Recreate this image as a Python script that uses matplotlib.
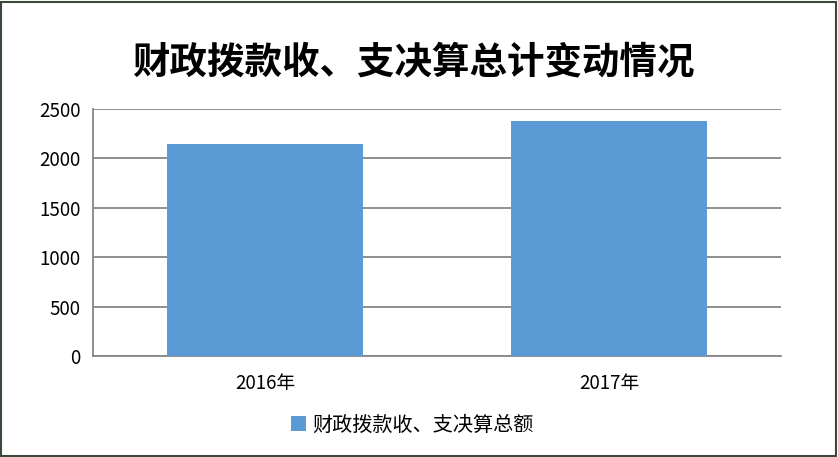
import matplotlib
matplotlib.use("Agg")
import matplotlib.pyplot as plt
from matplotlib.patches import Rectangle

plt.rcParams['font.family'] = ['Noto Sans CJK SC', 'DejaVu Sans']

categories = ["2016年", "2017年"]
values = [2143, 2376]
series_name = "财政拨款收、支决算总额"
title = "财政拨款收、支决算总计变动情况"
yticks = [0, 500, 1000, 1500, 2000, 2500]

fig = plt.figure(figsize=(8.38, 4.57), dpi=100)
ax = fig.add_axes([93/838, 1-356/457, (781-93)/838, (356-109)/457])

bar_color = "#5B9BD5"
x = list(range(len(categories)))
bars = ax.bar(x, values, width=0.57, color=bar_color, zorder=3, label=series_name)
ax.set_xlim(-0.5, len(categories) - 0.5)
ax.set_ylim(0, 2500)
ax.set_yticks(yticks)
ax.set_yticklabels([str(v) for v in yticks], fontsize=13.5)
ax.set_xticks(x)
ax.set_xticklabels(categories, fontsize=13.5)
ax.tick_params(axis='both', length=0, pad=9)
ax.tick_params(axis='x', pad=12)
ax.yaxis.grid(True, color="#868686", linewidth=1.3, zorder=0)
for s in ['top', 'right']:
    ax.spines[s].set_visible(False)
ax.spines['left'].set_color("#868686")
ax.spines['left'].set_linewidth(1.3)
ax.spines['bottom'].set_color("#868686")
ax.spines['bottom'].set_linewidth(1.3)

fig.text(413/838, 1-62/457, title, ha='center', va='center', fontsize=27, fontweight='bold')

leg = fig.legend(handles=[bars], labels=[series_name], loc='center',
                 bbox_to_anchor=(412/838, 1-425/457), frameon=False,
                 fontsize=14.5, handlelength=0.75, handleheight=0.75, handletextpad=0.3)

fig.patches.append(Rectangle((0.5/838, 1.5/457), 835/838, 454/457, transform=fig.transFigure,
                             fill=False, edgecolor="#3a4a3a", linewidth=1.5))

fig.savefig("out.png", dpi=100)
